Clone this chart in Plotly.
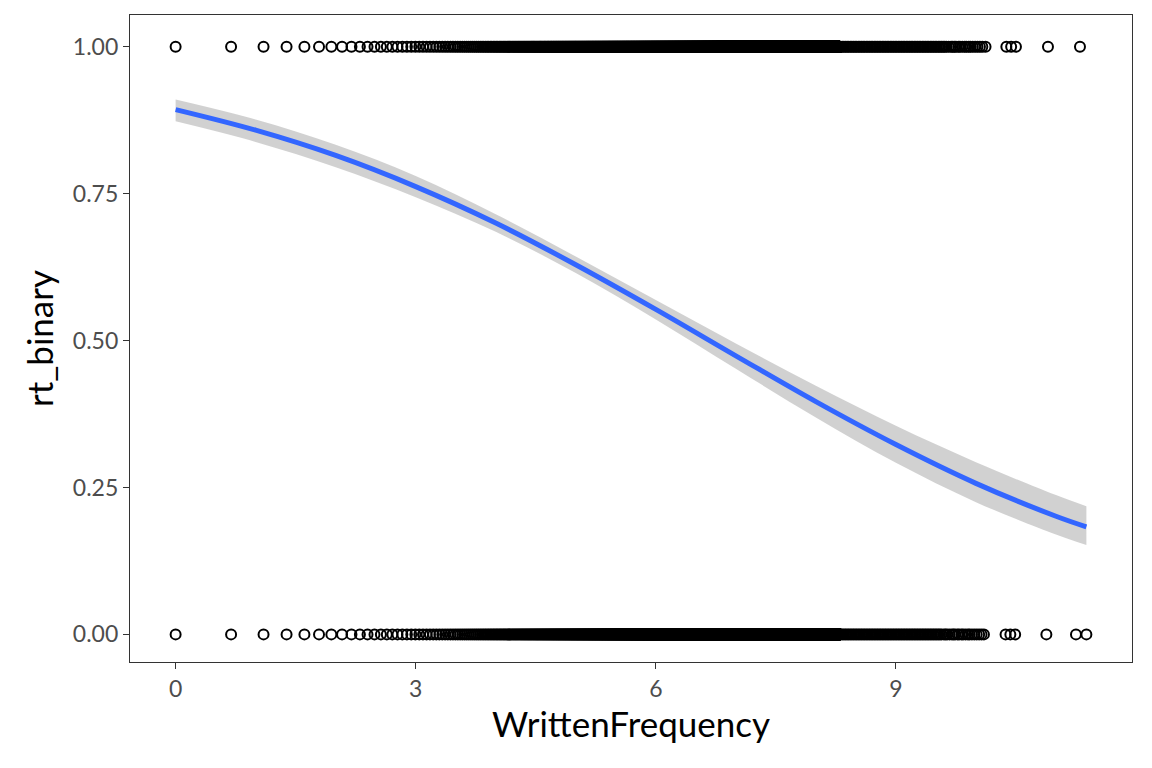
import numpy as np
import plotly.graph_objects as go

# ---- data ----
# WrittenFrequency is the log of an integer word count; every count 1..4000 occurs in both outcome groups
dense_counts = list(range(1, 4001))
# upper tail of the distribution (log frequency values)
tail_top = [8.31, 8.33, 8.35, 8.37, 8.39, 8.41, 8.43, 8.45, 8.47, 8.49, 8.51, 8.53, 8.55,
            8.57, 8.59, 8.61, 8.63, 8.65, 8.67, 8.69, 8.71, 8.73, 8.75, 8.77, 8.79, 8.81,
            8.83, 8.85, 8.87, 8.89, 8.91, 8.93, 8.95, 8.97, 8.99, 9.01, 9.03, 9.05, 9.07,
            9.09, 9.11, 9.13, 9.15, 9.17, 9.19, 9.21, 9.23, 9.25, 9.27, 9.29, 9.31, 9.33,
            9.35, 9.37, 9.39, 9.41, 9.43, 9.45, 9.47, 9.49, 9.51, 9.53, 9.55, 9.57, 9.59,
            9.61, 9.63, 9.66, 9.69, 9.71, 9.73, 9.75, 9.78, 9.80, 9.83, 9.86, 9.88, 9.91,
            9.93, 9.96, 9.99, 10.02, 10.05, 10.08, 10.12, 10.38, 10.44, 10.50, 10.90, 11.30]
tail_bottom = [8.31, 8.33, 8.35, 8.37, 8.39, 8.41, 8.43, 8.45, 8.47, 8.49, 8.51, 8.53, 8.55,
               8.57, 8.59, 8.61, 8.63, 8.65, 8.67, 8.69, 8.71, 8.73, 8.75, 8.77, 8.79, 8.81,
               8.83, 8.85, 8.87, 8.89, 8.91, 8.93, 8.95, 8.97, 8.99, 9.01, 9.03, 9.05, 9.07,
               9.09, 9.11, 9.13, 9.15, 9.17, 9.19, 9.21, 9.23, 9.25, 9.27, 9.29, 9.31, 9.33,
               9.35, 9.37, 9.39, 9.41, 9.43, 9.45, 9.47, 9.49, 9.51, 9.53, 9.55, 9.57, 9.60,
               9.62, 9.64, 9.67, 9.70, 9.72, 9.74, 9.77, 9.79, 9.82, 9.84, 9.87, 9.90, 9.92,
               9.95, 9.98, 10.01, 10.04, 10.07, 10.10, 10.37, 10.43, 10.49, 10.88, 11.25, 11.38]

# fitted logistic curve and 95% band (probability scale)
fit_x = [0, 1, 2, 3, 4, 5, 6, 7, 8, 9, 10, 11, 11.38]
fit_y = [0.893, 0.858, 0.815, 0.762, 0.700, 0.629, 0.553, 0.474, 0.396, 0.323, 0.257, 0.201, 0.183]
fit_lo = [0.873, 0.838, 0.795, 0.744, 0.685, 0.615, 0.536, 0.452, 0.369, 0.292, 0.225, 0.170, 0.152]
fit_hi = [0.910, 0.876, 0.833, 0.780, 0.715, 0.643, 0.569, 0.495, 0.423, 0.355, 0.293, 0.237, 0.218]

y_ticks = [0.00, 0.25, 0.50, 0.75, 1.00]
y_tick_text = ["0.00", "0.25", "0.50", "0.75", "1.00"]
x_ticks = [0, 3, 6, 9]

# ---- build ----
dense_x = list(np.log(np.array(dense_counts, dtype=float)))
x_top = dense_x + tail_top
x_bot = dense_x + tail_bottom

fig = go.Figure()
pt = dict(symbol="circle-open", size=10, color="black", line=dict(width=2, color="black"))
fig.add_trace(go.Scatter(x=x_top, y=[1] * len(x_top), mode="markers", marker=pt, showlegend=False))
fig.add_trace(go.Scatter(x=x_bot, y=[0] * len(x_bot), mode="markers", marker=pt, showlegend=False))

fig.add_trace(go.Scatter(x=fit_x, y=fit_hi, mode="lines", line=dict(width=0, shape="spline"),
                         showlegend=False, hoverinfo="skip"))
fig.add_trace(go.Scatter(x=fit_x, y=fit_lo, mode="lines", line=dict(width=0, shape="spline"),
                         fill="tonexty", fillcolor="rgba(153,153,153,0.45)",
                         showlegend=False, hoverinfo="skip"))
fig.add_trace(go.Scatter(x=fit_x, y=fit_y, mode="lines",
                         line=dict(color="#3366FF", width=5, shape="spline"), showlegend=False))

font = "Lato, 'Source Sans Pro', sans-serif"
axis_common = dict(showgrid=False, zeroline=False, showline=True, mirror=True,
                   linecolor="#333333", linewidth=1.3, ticks="outside", ticklen=6,
                   tickwidth=1.3, tickcolor="#333333", automargin=False,
                   tickfont=dict(family=font, size=23, color="#4d4d4d"))

fig.update_layout(
    width=1152, height=768,
    paper_bgcolor="white", plot_bgcolor="white",
    margin=dict(l=122, r=28, t=7, b=114),
    font=dict(family=font),
    xaxis=dict(range=[-0.57, 11.95], tickvals=x_ticks,
               title=dict(text="WrittenFrequency", font=dict(family=font, size=35, color="black"),
                          standoff=6),
               **axis_common),
    yaxis=dict(range=[-0.047, 1.054], tickvals=y_ticks, ticktext=y_tick_text,
               title=dict(text="rt_binary", font=dict(family=font, size=35, color="black"),
                          standoff=8),
               **axis_common),
)

fig.write_html("out.html")
